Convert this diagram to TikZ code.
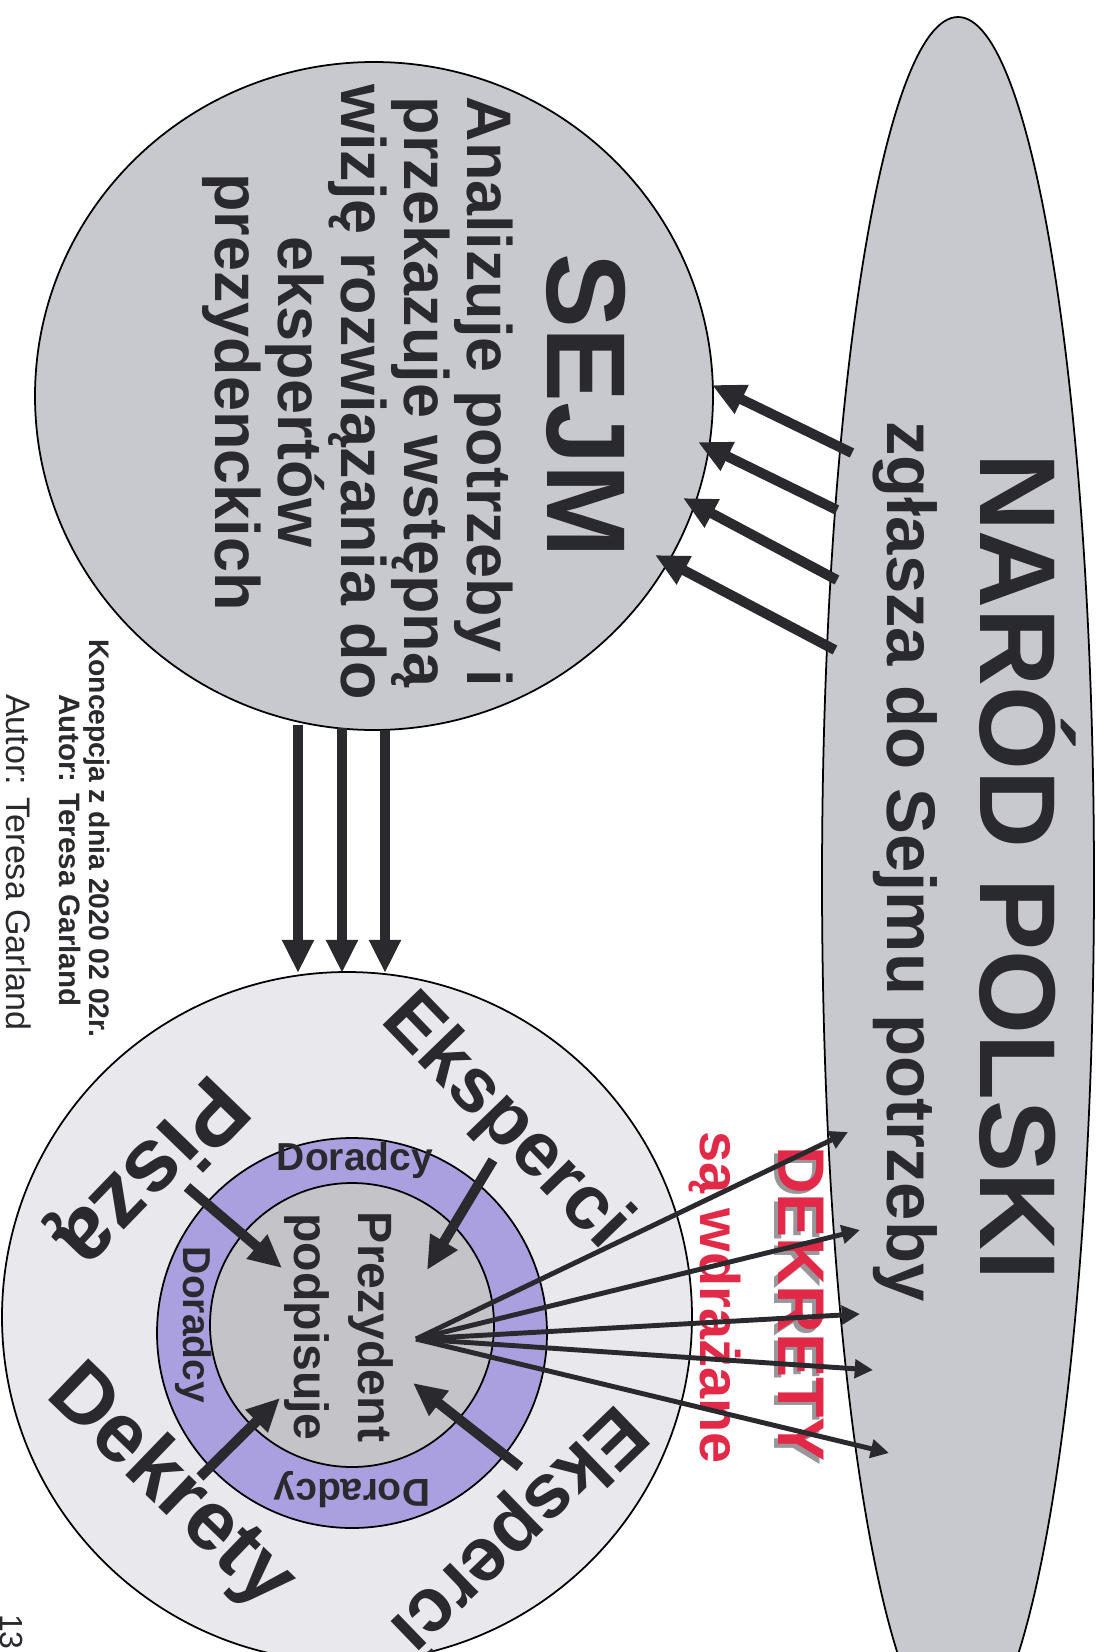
\documentclass[tikz,border=0pt]{standalone}
\usepackage{fontspec}
\setmainfont{Liberation Sans}
\usepackage{tikz}
\usetikzlibrary{arrows.meta,shapes.geometric}
\definecolor{shapegray}{RGB}{200,201,206}
\definecolor{palegray}{RGB}{233,233,237}
\definecolor{lilac}{RGB}{170,160,224}
\definecolor{midgray}{RGB}{196,196,200}
\definecolor{ink}{RGB}{42,42,46}
\definecolor{dekred}{RGB}{226,42,72}
\definecolor{shadowgray}{RGB}{150,150,155}

\begin{document}
\begin{tikzpicture}[x=0.1mm,y=-0.1mm,>={Triangle[length=9.4pt,width=8.5pt]},
                    semithick]
  \tikzstyle{blob}=[draw=black,line width=0.5pt]
  \tikzstyle{label}=[text=ink,inner sep=0pt]
  \tikzstyle{arc}=[label,font=\bfseries\fontsize{21.9}{22}\selectfont]
  \tikzstyle{ring}=[label,font=\bfseries\fontsize{11.1}{12}\selectfont]
  \tikzstyle{thick arrow}=[->,draw=ink,line width=2.85pt]
  \tikzstyle{thin arrow}=[-{Triangle[length=5.2pt,width=5.2pt]},draw=ink,line width=1.4pt]

  \useasboundingbox (0,0) rectangle (1096,1652);
  \clip (0,0) rectangle (1096,1652);

  \node[blob,ellipse,fill=shapegray,minimum width=27.2mm,minimum height=172.6mm] (narod) at (958,880) {};
  \node[blob,ellipse,fill=shapegray,minimum width=67.8mm,minimum height=66.8mm] (sejm) at (374,396) {};
  \node[blob,circle,fill=palegray,minimum size=69mm] (krag) at (347,1317) {};
  \node[blob,circle,fill=lilac,minimum size=39mm] (doradcy) at (352,1333) {};
  \node[blob,circle,fill=midgray,minimum size=28.4mm] (prezydent) at (352,1325) {};

  \node[label,rotate=-90,anchor=base west,font=\bfseries\fontsize{30.7}{31}\selectfont] (narodtxt) at (980,452) {NARÓD POLSKI};
  \node[label,rotate=-90,anchor=base west,font=\bfseries\fontsize{19.6}{20}\selectfont] (zglasza) at (887,420) {zgłasza do Sejmu potrzeby};
  \node[label,rotate=-90,anchor=base west,font=\bfseries\fontsize{31.9}{32}\selectfont] (sejmtxt) at (547,252) {SEJM};
  \node[label,rotate=-90,align=center,font=\bfseries\fontsize{17.9}{17.9}\selectfont] (sejmopis) at (357.5,392)
    {Analizuje potrzeby i\\przekazuje wstępną\\wizję rozwiązania do\\ekspertów\\prezydenckich};

  \node[label,rotate=-90,anchor=base west,font=\bfseries\fontsize{8.05}{9}\selectfont] (koncepcja) at (90,638) {Koncepcja z dnia 2020 02 02r.};
  \node[label,rotate=-90,anchor=base west,font=\bfseries\fontsize{8.4}{9}\selectfont] (autor) at (60,693) {Autor: Teresa Garland};
  \node[label,rotate=-90,anchor=base west,font=\fontsize{9.7}{10}\selectfont] (autorb) at (7,693) {Autor: Teresa Garland};
  \node[label,rotate=-90,anchor=base west,font=\fontsize{9.1}{10}\selectfont] (strona) at (1,1613) {13};

  \node[label,rotate=-90,anchor=base west,text=dekred,font=\bfseries\fontsize{18.8}{19}\selectfont] (dekrety) at (778,1145)
    {\rlap{\kern0.35mm\raisebox{-0.35mm}{\color{shadowgray}DEKRETY}}DEKRETY};
  \node[label,rotate=-90,anchor=base west,text=dekred,font=\bfseries\fontsize{15.9}{16}\selectfont] (wdrazane) at (700,1130) {są wdrażane};

  \node[arc,rotate=-46] (eksp1) at (505,1123) {Eksperci};
  \node[arc,rotate=-136] (eksp2) at (516,1528) {Eksperci};
  \node[arc,rotate=-44,font=\bfseries\fontsize{23.9}{24}\selectfont] (dekr) at (170,1488) {Dekrety};
  \node[arc,rotate=-134,font=\bfseries\fontsize{25.6}{26}\selectfont] (pisza) at (148,1170) {Piszą};

  \node[ring] (dor1) at (355,1160) {Doradcy};
  \node[ring,rotate=-90] (dor2) at (194,1325) {Doradcy};
  \node[ring,rotate=180] (dor3) at (352,1490) {Doradcy};
  \node[label,rotate=-90,align=center,font=\bfseries\fontsize{13.7}{18.2}\selectfont] (podpis) at (338.5,1327) {Prezydent\\podpisuje};

  \coordinate (n1) at (852,453); \coordinate (s1) at (712,385);
  \coordinate (n2) at (837,510); \coordinate (s2) at (698,442);
  \coordinate (n3) at (837,580); \coordinate (s3) at (683,498);
  \coordinate (n4) at (835,650); \coordinate (s4) at (655,555);
  \coordinate (d1) at (298,725); \coordinate (k1) at (298,973);
  \coordinate (d2) at (342,728); \coordinate (k2) at (342,973);
  \coordinate (d3) at (385,730); \coordinate (k3) at (385,973);
  \coordinate (e1) at (493,1160); \coordinate (e1t) at (427,1270);
  \coordinate (p1) at (187,1187); \coordinate (p1t) at (282,1268);
  \coordinate (r1) at (200,1477); \coordinate (r1t) at (280,1398);
  \coordinate (e2) at (520,1467); \coordinate (e2t) at (413,1383);
  \coordinate (fan) at (416,1339);
  \coordinate (t1) at (848,1132); \coordinate (t2) at (860,1230);
  \coordinate (t3) at (860,1314); \coordinate (t4) at (873,1370);
  \coordinate (t5) at (889,1453);

  \draw[thick arrow] (n1) -- (s1);
  \draw[thick arrow] (n2) -- (s2);
  \draw[thick arrow] (n3) -- (s3);
  \draw[thick arrow] (n4) -- (s4);
  \draw[thick arrow] (d1) -- (k1);
  \draw[thick arrow] (d2) -- (k2);
  \draw[thick arrow] (d3) -- (k3);
  \draw[thick arrow] (e1) -- (e1t);
  \draw[thick arrow] (p1) -- (p1t);
  \draw[thick arrow] (r1) -- (r1t);
  \draw[thick arrow] (e2) -- (e2t);
  \draw[thin arrow] (fan) -- (t1);
  \draw[thin arrow] (fan) -- (t2);
  \draw[thin arrow] (fan) -- (t3);
  \draw[thin arrow] (fan) -- (t4);
  \draw[thin arrow] (fan) -- (t5);

\end{tikzpicture}
\end{document}
